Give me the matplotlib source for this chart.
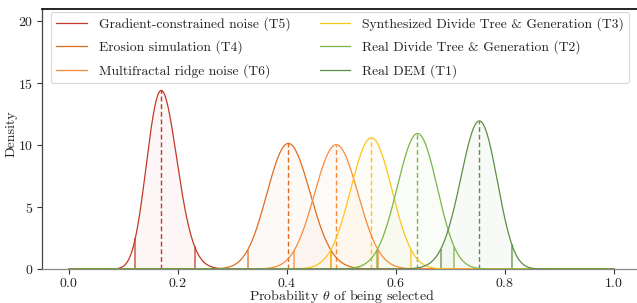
import math
import numpy as np
import matplotlib
matplotlib.use("Agg")
import matplotlib.pyplot as plt

plt.rcParams['font.family'] = 'serif'
plt.rcParams['font.serif'] = ['cmr10']
plt.rcParams['mathtext.fontset'] = 'cm'
plt.rcParams['axes.formatter.use_mathtext'] = True

# pairwise selection outcomes per technique (times selected / not selected)
labels = ["Gradient-constrained noise (T5)", "Erosion simulation (T4)",
          "Multifractal ridge noise (T6)", "Synthesized Divide Tree & Generation (T3)",
          "Real Divide Tree & Generation (T2)", "Real DEM (T1)"]
wins = [31, 62, 77, 96, 110, 125]
losses = [152, 92, 80, 77, 62, 41]
colors = ["#c23a26", "#df6d1f", "#f98a3a", "#fec41c", "#7ab646", "#5b8f45"]


def beta_pdf(x, a, b):
    logc = math.lgamma(a + b) - math.lgamma(a) - math.lgamma(b)
    with np.errstate(divide='ignore'):
        return np.exp(logc + (a - 1) * np.log(x) + (b - 1) * np.log(1 - x))


x = np.linspace(1e-6, 1 - 1e-6, 4001)

fig = plt.figure(figsize=(6.37, 3.03), dpi=100)
ax = fig.add_axes([41.7 / 637, 34 / 303, 599.5 / 637, 260 / 303])

for lab, w, l, c in zip(labels, wins, losses, colors):
    a, b = w + 1, l + 1
    y = beta_pdf(x, a, b)
    cdf = np.cumsum(y)
    cdf /= cdf[-1]
    lo = np.interp(0.025, cdf, x)
    hi = np.interp(0.975, cdf, x)
    mode = (a - 1) / (a + b - 2)
    ax.plot(x, y, color=c, lw=0.9, label=lab, zorder=3)
    m = (x >= lo) & (x <= hi)
    ax.fill_between(x[m], 0, y[m], color=c, alpha=0.04, lw=0)
    for v in (lo, hi):
        ax.vlines(v, 0, beta_pdf(np.array([v]), a, b)[0], color=c, lw=1.3, alpha=0.7)
    ax.vlines(mode, 0, beta_pdf(np.array([mode]), a, b)[0], color=c, lw=1.0,
              linestyles=(0, (3.5, 2)))

ax.set_xlim(-0.05, 1.05)
ax.set_ylim(0, 21)
ax.set_xticks([0.0, 0.2, 0.4, 0.6, 0.8, 1.0])
ax.set_yticks([0, 5, 10, 15, 20])
ax.tick_params(labelsize=10, length=3.5, width=0.8, pad=2.5, colors='#333333')
ax.tick_params(labelcolor='#222222')
ax.set_xlabel(r"Probability $\theta$ of being selected", fontsize=10, color='#222222')
ax.set_ylabel("Density", fontsize=10, color='#222222')
ax.xaxis.set_label_coords(0.5, -0.073)
ax.yaxis.set_label_coords(-0.041, 0.52)
for s in ax.spines.values():
    s.set_linewidth(0.9)
ax.spines['left'].set_color('#444444')
ax.spines['bottom'].set_color('#888888')
ax.spines['top'].set_linewidth(1.2)

leg = ax.legend(loc='upper left', ncol=2, prop={'size': 9.8}, frameon=True,
                bbox_to_anchor=(0.015, 0.99), borderaxespad=0, handlelength=2.25,
                handletextpad=0.85, columnspacing=2.15, labelspacing=0.7, borderpad=0.42)
leg.get_frame().set_edgecolor('#d0d0d0')
leg.get_frame().set_linewidth(0.8)
for t in leg.get_texts():
    t.set_color('#222222')

fig.savefig("out.png", dpi=100)
